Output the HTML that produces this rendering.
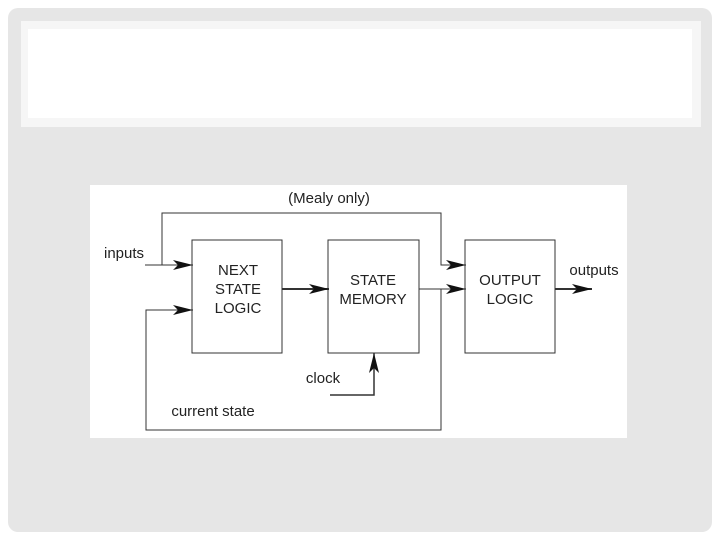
<!DOCTYPE html>
<html><head><style>
body{margin:0;width:720px;height:540px;background:#fff;overflow:hidden;font-family:"Liberation Sans",Arial,sans-serif}
.card{position:absolute;left:8px;top:8px;width:704px;height:524px;background:#e6e6e6;border-radius:10px}
.title{position:absolute;left:21px;top:21px;width:680px;height:106px;background:#f6f6f6}
.title div{position:absolute;left:7px;top:8px;right:9px;bottom:9px;background:#fff}
.dia{position:absolute;left:90px;top:185px;width:537px;height:253px;background:#fff}
</style></head><body>
<div class="card"></div>
<div class="title"><div></div></div>
<div class="dia"></div>
<svg width="720" height="540" style="position:absolute;left:0;top:0" font-family="Liberation Sans, Arial, sans-serif" fill="#222">
<defs><marker id="a" markerWidth="20" markerHeight="10" refX="20" refY="5" orient="auto" markerUnits="userSpaceOnUse"><path d="M0,0 L20,5 L0,10 L5,5Z" fill="#111"/></marker></defs>
<g fill="none" stroke="#333" stroke-width="1">
<rect x="192" y="240" width="90" height="113"/>
<rect x="328" y="240" width="91" height="113"/>
<rect x="465" y="240" width="90" height="113"/>
<path d="M145,265 H193" marker-end="url(#a)"/>
<path d="M162,265 V213 H441 V265 H466" marker-end="url(#a)"/>
<path d="M419,289 H466" marker-end="url(#a)"/>
<path d="M441,289 V430 H146 V310 H193" marker-end="url(#a)"/>
<path d="M282,289 H329" stroke-width="2" marker-end="url(#a)"/>
<path d="M555,289 H592" stroke-width="2" marker-end="url(#a)"/>
<path d="M330,395 H374 V353" stroke-width="1.5" marker-end="url(#a)"/>
</g>
<g font-size="15" text-anchor="middle">
<text x="329" y="203">(Mealy only)</text>
<text x="124" y="258">inputs</text>
<text x="594" y="275">outputs</text>
<text x="323" y="383">clock</text>
<text x="213" y="416">current state</text>
<text x="238" y="275">NEXT</text><text x="238" y="294">STATE</text><text x="238" y="313">LOGIC</text>
<text x="373" y="285">STATE</text><text x="373" y="304">MEMORY</text>
<text x="510" y="285">OUTPUT</text><text x="510" y="304">LOGIC</text>
</g>
</svg>
</body></html>
